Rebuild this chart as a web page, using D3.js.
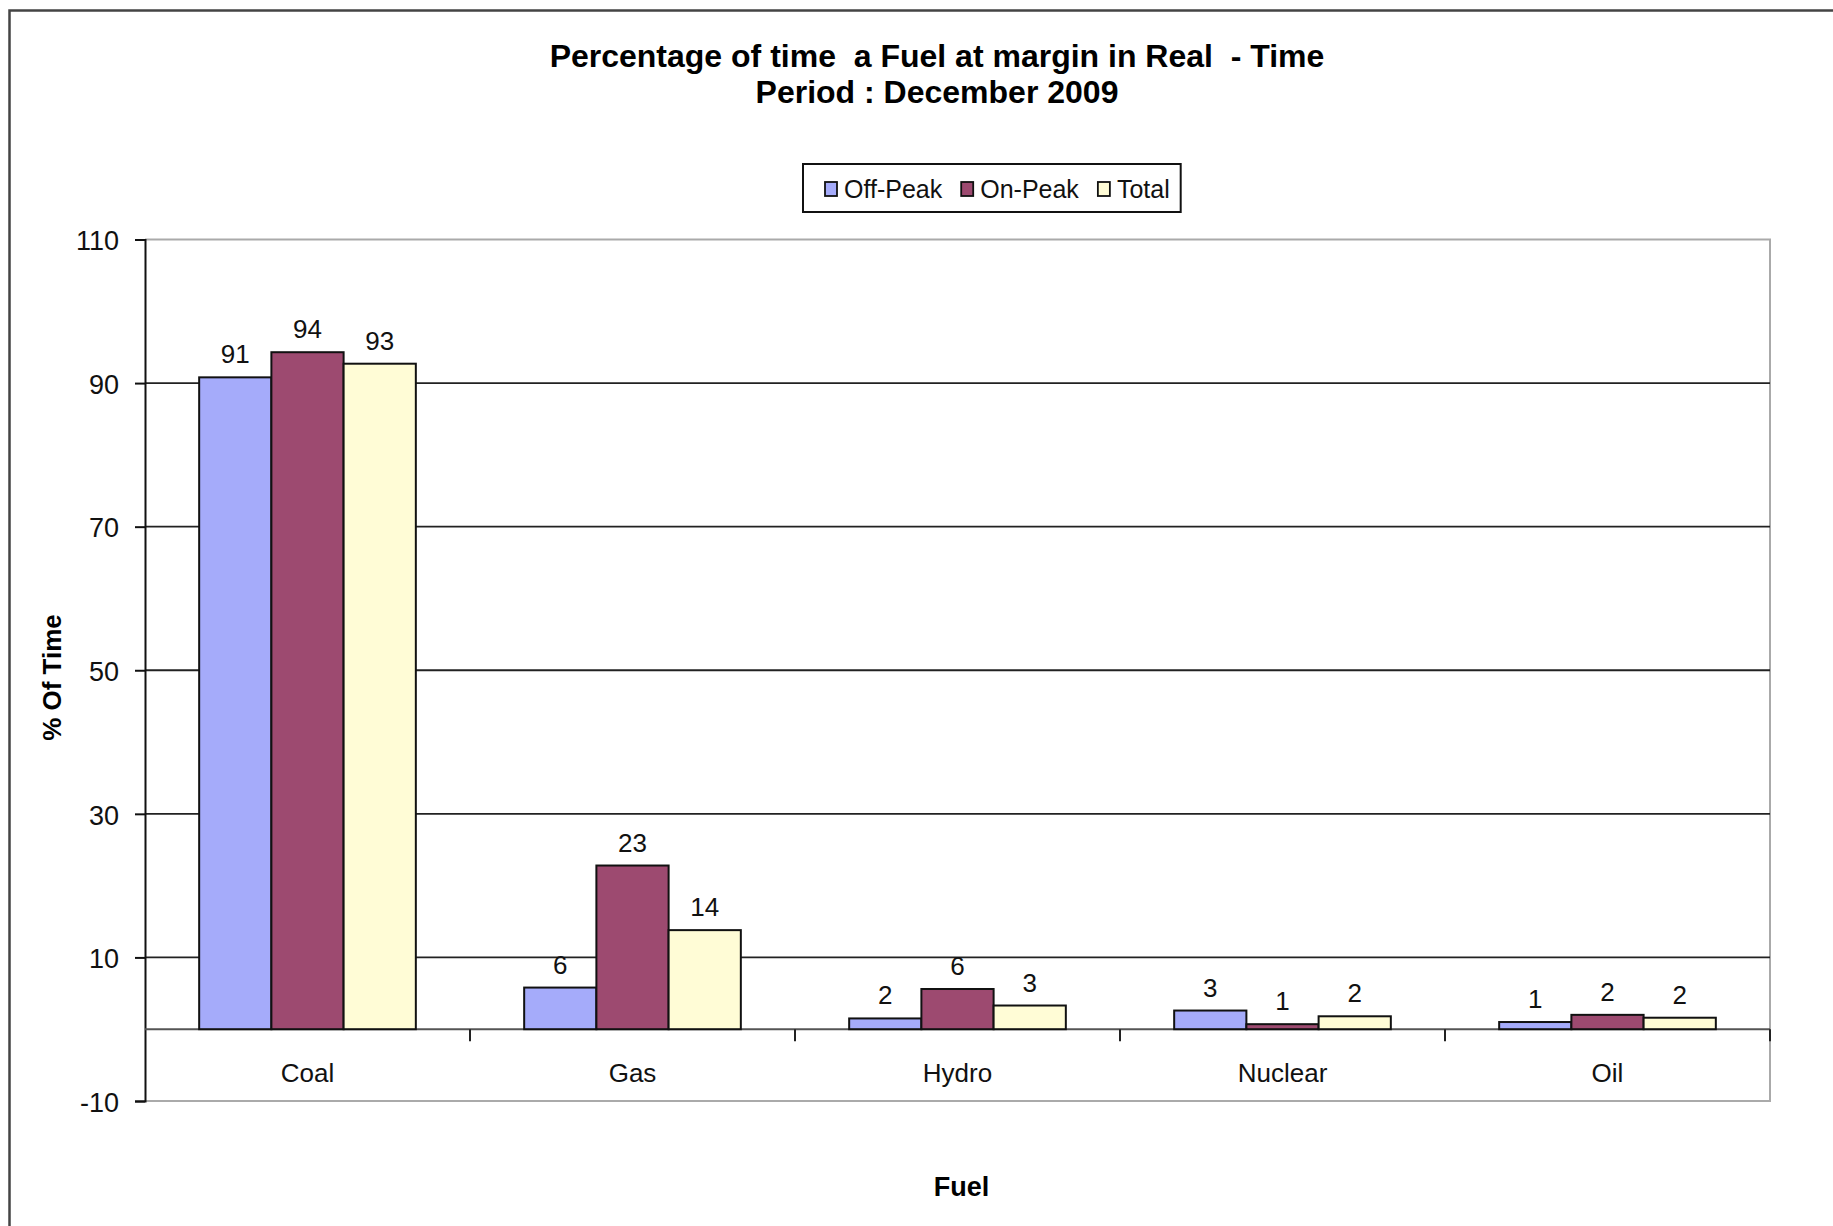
<!DOCTYPE html>
<html>
<head>
<meta charset="utf-8">
<script src="https://cdn.jsdelivr.net/npm/d3@7"></script>
<style>
  html, body { margin: 0; padding: 0; background: #ffffff; }
  svg { display: block; font-family: "Liberation Sans", Arial, sans-serif; }
</style>
</head>
<body>
<div id="chart"></div>
<script>
// values
const categories = ["Coal", "Gas", "Hydro", "Nuclear", "Oil"];
const seriesNames = ["Off-Peak", "On-Peak", "Total"];
const offPeak = [90.8, 5.8, 1.5, 2.6, 1.0];
const onPeak = [94.3, 22.8, 5.6, 0.7, 2.0];
const total = [92.7, 13.8, 3.3, 1.8, 1.6];
const yTicks = [-10, 10, 30, 50, 70, 90, 110];
const titleLines = ["Percentage of time  a Fuel at margin in Real  - Time", "Period : December 2009"];

const colors = ["#a5abfa", "#9d4a70", "#fffcd6"];
const seriesValues = [offPeak, onPeak, total];

const width = 1833;
const height = 1226;
const plot = { left: 145, right: 1770, top: 239.5, bottom: 1101 };

const svg = d3
  .select("#chart")
  .append("svg")
  .attr("width", width)
  .attr("height", height);

// chart area border (only left and top are inside the picture)
svg.append("path")
  .attr("d", `M9.5,${height} L9.5,10.5 L${width},10.5`)
  .style("fill", "none")
  .style("stroke", "#444")
  .style("stroke-width", 2.5);

const y = d3.scaleLinear().domain([-10, 110]).range([plot.bottom, plot.top]);
const x0 = d3.scaleBand().domain(categories).range([plot.left, plot.right]).paddingInner(0);
const x1 = d3.scaleBand().domain(seriesNames).range([0, x0.bandwidth()]).paddingInner(0).paddingOuter(0.75);

// plot area frame (top, right, bottom)
svg.append("path")
  .attr("d", `M${plot.left},${y(110)} L${plot.right},${y(110)} L${plot.right},${y(-10)} L${plot.left},${y(-10)}`)
  .style("fill", "none")
  .style("stroke", "#aaaaaa")
  .style("stroke-width", 2);

// gridlines
svg.append("g")
  .selectAll("line")
  .data(yTicks.filter((t) => t > 0 && t < 110))
  .enter()
  .append("line")
  .attr("x1", plot.left)
  .attr("x2", plot.right)
  .attr("y1", (d) => y(d))
  .attr("y2", (d) => y(d))
  .style("stroke", "#222")
  .style("stroke-width", 1.8);

// y axis (plain hyphen for the negative tick, as in the original)
const yAxis = d3.axisLeft(y)
  .tickValues(yTicks)
  .tickFormat((d) => String(d))
  .tickSize(10)
  .tickPadding(16);
const gy = svg.append("g")
  .attr("transform", `translate(${plot.left},0)`)
  .call(yAxis);
gy.select(".domain").style("stroke", "#111").style("stroke-width", 2);
gy.selectAll(".tick line").style("stroke", "#111").style("stroke-width", 2);
gy.selectAll(".tick text")
  .style("font-size", "27px")
  .style("fill", "#111")
  .attr("dy", "0.38em");

// zero line with category ticks
svg.append("line")
  .attr("x1", plot.left)
  .attr("x2", plot.right)
  .attr("y1", y(0))
  .attr("y2", y(0))
  .style("stroke", "#555")
  .style("stroke-width", 2);

svg.append("g")
  .selectAll("line")
  .data(categories)
  .enter()
  .append("line")
  .attr("x1", (d) => x0(d) + x0.bandwidth())
  .attr("x2", (d) => x0(d) + x0.bandwidth())
  .attr("y1", y(0))
  .attr("y2", y(0) + 12)
  .style("stroke", "#222")
  .style("stroke-width", 2);

// category labels
svg.append("g")
  .selectAll("text")
  .data(categories)
  .enter()
  .append("text")
  .attr("x", (d) => x0(d) + x0.bandwidth() / 2)
  .attr("y", y(0) + 53)
  .attr("text-anchor", "middle")
  .style("font-size", "26px")
  .style("fill", "#111")
  .text((d) => d);

// bars
const groups = svg.append("g")
  .selectAll("g")
  .data(categories)
  .enter()
  .append("g")
  .attr("transform", (d) => `translate(${x0(d)},0)`);

const barData = (cat, i) =>
  seriesNames.map((s, j) => ({ series: s, value: seriesValues[j][i], color: colors[j] }));

groups.selectAll("rect")
  .data(barData)
  .enter()
  .append("rect")
  .attr("x", (d) => x1(d.series))
  .attr("width", x1.bandwidth())
  .attr("y", (d) => y(d.value))
  .attr("height", (d) => y(0) - y(d.value))
  .style("fill", (d) => d.color)
  .style("stroke", "#111")
  .style("stroke-width", 2);

const fmt = d3.format(".0f");
groups.selectAll("text")
  .data(barData)
  .enter()
  .append("text")
  .attr("x", (d) => x1(d.series) + x1.bandwidth() / 2)
  .attr("y", (d) => y(d.value) - 14)
  .attr("text-anchor", "middle")
  .style("font-size", "26px")
  .style("fill", "#111")
  .text((d) => fmt(d.value));

// title
svg.append("g")
  .selectAll("text")
  .data(titleLines)
  .enter()
  .append("text")
  .attr("x", 937)
  .attr("y", (d, i) => 67 + i * 36)
  .attr("text-anchor", "middle")
  .style("font-size", "32px")
  .style("font-weight", "bold")
  .style("fill", "#000")
  .style("white-space", "pre")
  .text((d) => d);

// axis titles
svg.append("text")
  .attr("transform", `translate(61,${(615 + 740) / 2}) rotate(-90)`)
  .attr("text-anchor", "middle")
  .style("font-size", "26px")
  .style("font-weight", "bold")
  .style("fill", "#000")
  .text("% Of Time");

svg.append("text")
  .attr("x", (plot.left + plot.right) / 2 + 4)
  .attr("y", 1196)
  .attr("text-anchor", "middle")
  .style("font-size", "27px")
  .style("font-weight", "bold")
  .style("fill", "#000")
  .text("Fuel");

// legend
const legend = svg.append("g");
const legendBox = legend.append("rect")
  .style("fill", "#fff")
  .style("stroke", "#111")
  .style("stroke-width", 2);

let lx = 825;
seriesNames.forEach((name, i) => {
  legend.append("rect")
    .attr("x", lx)
    .attr("y", 182)
    .attr("width", 12)
    .attr("height", 14)
    .style("fill", colors[i])
    .style("stroke", "#111")
    .style("stroke-width", 1.8);
  const t = legend.append("text")
    .attr("x", lx + 19)
    .attr("y", 198)
    .style("font-size", "25px")
    .style("fill", "#111")
    .text(name);
  lx = lx + 19 + t.node().getComputedTextLength() + 19;
});

legendBox
  .attr("x", 803)
  .attr("y", 164)
  .attr("width", lx - 19 + 11 - 803)
  .attr("height", 48);
</script>
</body>
</html>
